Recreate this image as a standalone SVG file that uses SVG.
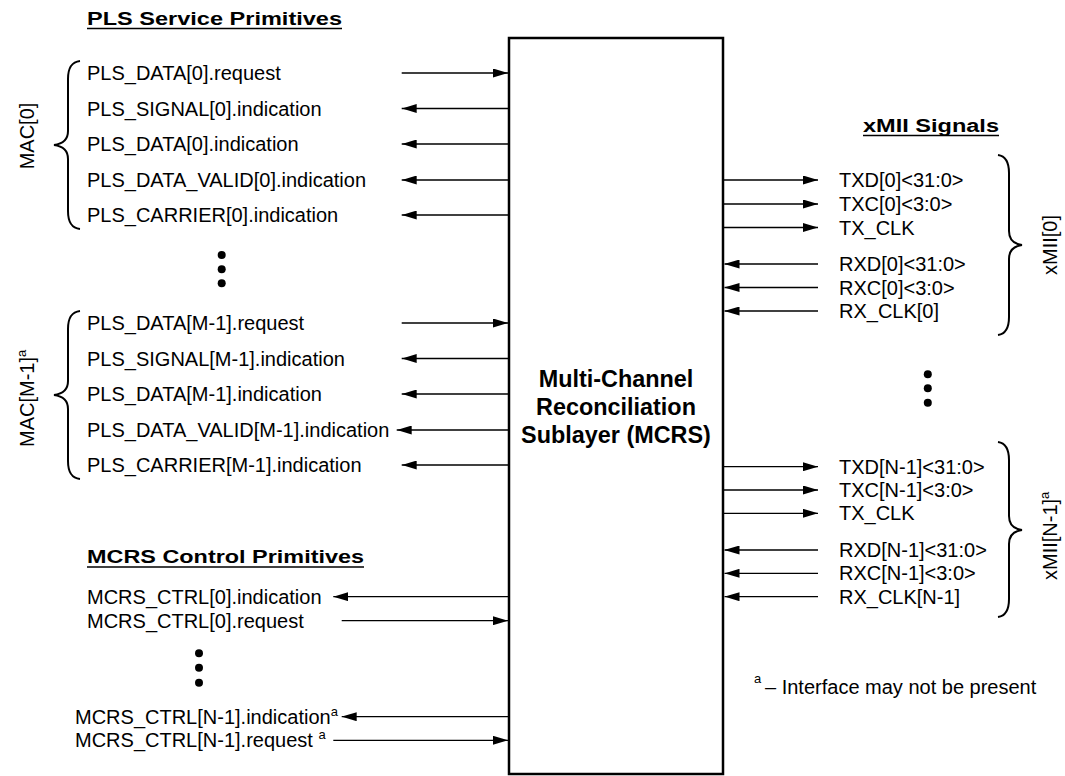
<svg xmlns="http://www.w3.org/2000/svg" width="1065" height="776" viewBox="0 0 1065 776">
<style>
text{font-family:"Liberation Sans",Arial,sans-serif;fill:#000}
.t{font-size:20px}
.b{font-weight:bold}
.ttl{font-size:18px;font-weight:bold}
.sup{font-size:13px}
.ln{stroke:#000;stroke-width:1.3;fill:none}
.ul{stroke:#000;stroke-width:1.7}
.br{stroke:#000;stroke-width:2;fill:none}
</style>
<defs>
<marker id="ah" markerUnits="userSpaceOnUse" markerWidth="15" markerHeight="9" refX="15" refY="4.5" orient="auto">
<path d="M0,0 L15,4.5 L0,9 z" fill="#000"/>
</marker>
</defs>
<rect width="1065" height="776" fill="#fff"/>

<g id="mcrs">
<rect x="509" y="38" width="214" height="736" fill="#fff" stroke="#000" stroke-width="2.5"/>
<text class="b" font-size="23.4" text-anchor="middle" x="616" y="386.7">Multi-Channel</text>
<text class="b" font-size="23.4" text-anchor="middle" x="616" y="415">Reconciliation</text>
<text class="b" font-size="23.4" text-anchor="middle" x="616" y="443.3">Sublayer (MCRS)</text>
</g>

<g id="pls-title">
<text class="ttl" x="87" y="24.5" textLength="255" lengthAdjust="spacingAndGlyphs">PLS Service Primitives</text>
<line class="ul" x1="87" y1="28.5" x2="342" y2="28.5"/>
</g>

<g id="mac0">
<path class="br" d="M80,61 C72,62 68,67 68,79 L68,131 C68,140 62,144 54,145 C62,146 68,150 68,159 L68,211 C68,223 72,228 80,229"/>
<text class="t" transform="translate(33.5,136) rotate(-90)" text-anchor="middle">MAC[0]</text>
<text class="t" x="87" y="80">PLS_DATA[0].request</text>
<text class="t" x="87" y="115.5">PLS_SIGNAL[0].indication</text>
<text class="t" x="87" y="151">PLS_DATA[0].indication</text>
<text class="t" x="87" y="187">PLS_DATA_VALID[0].indication</text>
<text class="t" x="87" y="222">PLS_CARRIER[0].indication</text>
</g>

<g id="dots-mac">
<circle cx="221.7" cy="255" r="4"/>
<circle cx="221.7" cy="269.3" r="4"/>
<circle cx="221.7" cy="283.3" r="4"/>
</g>

<g id="macM1">
<path class="br" d="M80,311 C72,312 68,317 68,329 L68,381 C68,390 62,394 54,395 C62,396 68,400 68,409 L68,461 C68,473 72,478 80,479"/>
<text class="t" transform="translate(33.5,447) rotate(-90)">MAC[M-1]<tspan class="sup" dy="-8">a</tspan></text>
<text class="t" x="87" y="330">PLS_DATA[M-1].request</text>
<text class="t" x="87" y="365.5">PLS_SIGNAL[M-1].indication</text>
<text class="t" x="87" y="401">PLS_DATA[M-1].indication</text>
<text class="t" x="87" y="437">PLS_DATA_VALID[M-1].indication</text>
<text class="t" x="87" y="472">PLS_CARRIER[M-1].indication</text>
</g>

<g id="mcrs-title">
<text class="ttl" x="87" y="563" textLength="277" lengthAdjust="spacingAndGlyphs">MCRS Control Primitives</text>
<line class="ul" x1="87" y1="567" x2="364" y2="567"/>
</g>

<g id="ctrl0">
<text class="t" x="87" y="603.7">MCRS_CTRL[0].indication</text>
<text class="t" x="87" y="627.7">MCRS_CTRL[0].request</text>
</g>

<g id="dots-ctrl">
<circle cx="199" cy="653.3" r="4"/>
<circle cx="199" cy="667.7" r="4"/>
<circle cx="199" cy="682.7" r="4"/>
</g>

<g id="ctrlN1">
<text class="t" x="75" y="723.7">MCRS_CTRL[N-1].indication<tspan class="sup" dy="-8">a</tspan></text>
<text class="t" x="75" y="747.3">MCRS_CTRL[N-1].request <tspan class="sup" dy="-8">a</tspan></text>
</g>

<g id="xmii-title">
<text class="ttl" x="863" y="132" textLength="136" lengthAdjust="spacingAndGlyphs">xMII Signals</text>
<line class="ul" x1="863" y1="135.5" x2="999" y2="135.5"/>
</g>

<g id="xmii0">
<text class="t" x="839" y="187">TXD[0]&lt;31:0&gt;</text>
<text class="t" x="839" y="211">TXC[0]&lt;3:0&gt;</text>
<text class="t" x="839" y="234.5">TX_CLK</text>
<text class="t" x="839" y="271">RXD[0]&lt;31:0&gt;</text>
<text class="t" x="839" y="294.5">RXC[0]&lt;3:0&gt;</text>
<text class="t" x="839" y="318">RX_CLK[0]</text>
<path class="br" d="M998,155 C1005,156 1009,161 1009,173 L1009,231 C1009,240 1014,244 1022,245 C1014,246 1009,250 1009,259 L1009,317 C1009,329 1005,334 998,335"/>
<text class="t" transform="translate(1057,245) rotate(-90)" text-anchor="middle">xMII[0]</text>
</g>

<g id="dots-xmii">
<circle cx="927.8" cy="374.3" r="4"/>
<circle cx="927.8" cy="388.3" r="4"/>
<circle cx="927.8" cy="402.7" r="4"/>
</g>

<g id="xmiiN1">
<text class="t" x="839" y="473.7">TXD[N-1]&lt;31:0&gt;</text>
<text class="t" x="839" y="497">TXC[N-1]&lt;3:0&gt;</text>
<text class="t" x="839" y="520.3">TX_CLK</text>
<text class="t" x="839" y="557">RXD[N-1]&lt;31:0&gt;</text>
<text class="t" x="839" y="580.3">RXC[N-1]&lt;3:0&gt;</text>
<text class="t" x="839" y="603.7">RX_CLK[N-1]</text>
<path class="br" d="M998,442 C1005,443 1009,448 1009,460 L1009,516 C1009,525 1014,529 1022,530 C1014,531 1009,535 1009,544 L1009,599 C1009,611 1005,616 998,617"/>
<text class="t" transform="translate(1057,580) rotate(-90)">xMII[N-1]<tspan class="sup" dy="-8">a</tspan></text>
</g>

<g id="footnote">
<text class="sup" x="754" y="683">a</text>
<text class="t" x="765" y="694">– Interface may not be present</text>
</g>

<g id="connectors" class="ln" marker-end="url(#ah)">
<line x1="401.7" y1="73" x2="508" y2="73"/>
<line x1="508" y1="108.5" x2="401.7" y2="108.5"/>
<line x1="508" y1="144" x2="401.7" y2="144"/>
<line x1="508" y1="180" x2="401.7" y2="180"/>
<line x1="508" y1="215" x2="401.7" y2="215"/>
<line x1="401.7" y1="323" x2="508" y2="323"/>
<line x1="508" y1="358.5" x2="401.7" y2="358.5"/>
<line x1="508" y1="394" x2="401.7" y2="394"/>
<line x1="508" y1="430" x2="396.7" y2="430"/>
<line x1="508" y1="465" x2="401.7" y2="465"/>
<line x1="508" y1="596.7" x2="333.3" y2="596.7"/>
<line x1="341.7" y1="620.7" x2="508" y2="620.7"/>
<line x1="508" y1="716.7" x2="341.7" y2="716.7"/>
<line x1="333.3" y1="740.3" x2="508" y2="740.3"/>
<line x1="724" y1="180" x2="818" y2="180"/>
<line x1="724" y1="204" x2="818" y2="204"/>
<line x1="724" y1="227.5" x2="818" y2="227.5"/>
<line x1="818" y1="264" x2="724.5" y2="264"/>
<line x1="818" y1="287.5" x2="724.5" y2="287.5"/>
<line x1="818" y1="311" x2="724.5" y2="311"/>
<line x1="724" y1="466.7" x2="818" y2="466.7"/>
<line x1="724" y1="490" x2="818" y2="490"/>
<line x1="724" y1="513.3" x2="818" y2="513.3"/>
<line x1="818" y1="550" x2="724.5" y2="550"/>
<line x1="818" y1="573.3" x2="724.5" y2="573.3"/>
<line x1="818" y1="596.7" x2="724.5" y2="596.7"/>
</g>
</svg>
